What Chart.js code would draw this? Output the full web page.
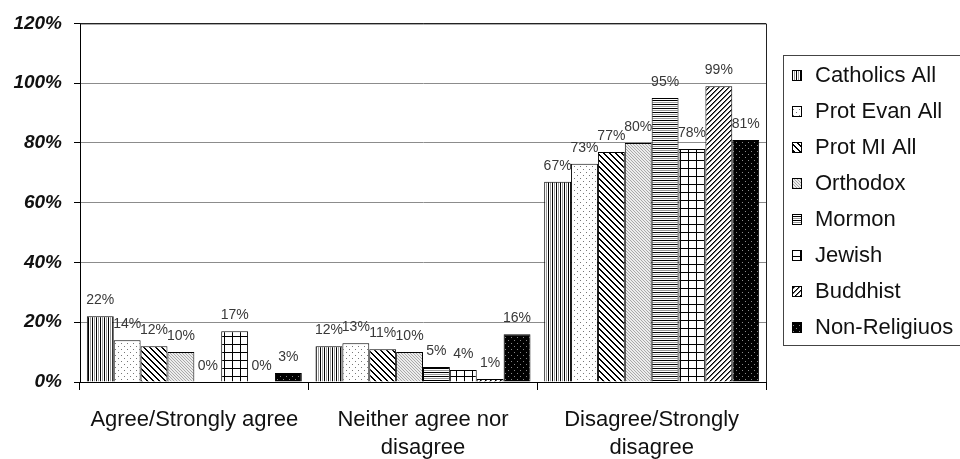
<!DOCTYPE html>
<html>
<head>
<meta charset="utf-8">
<title>Religious groups - responses</title>
<script src="https://cdn.jsdelivr.net/npm/chart.js@4.4.1/dist/chart.umd.min.js"></script>
<style>
    html, body { margin: 0; padding: 0; background: #fff; }
    #chart-box { width: 960px; height: 459px; position: relative; }
</style>
</head>
<body>
<div id="chart-box"><canvas id="myChart"></canvas></div>
<script>
// Response categories (x axis)
const categories = [
    ['Agree/Strongly agree'],
    ['Neither agree nor', 'disagree'],
    ['Disagree/Strongly', 'disagree']
];

// Percentages per group, one value per category
const catholicsAll = [22, 12, 67];
const protEvanAll = [14, 13, 73];
const protMlAll = [12, 11, 77];
const orthodox = [10, 10, 80];
const mormon = [0, 5, 95];
const jewish = [17, 4, 78];
const buddhist = [0, 1, 99];
const nonReligious = [3, 16, 81];

const groupNames = ['Catholics All', 'Prot Evan All', 'Prot MI All', 'Orthodox', 'Mormon', 'Jewish', 'Buddhist', 'Non-Religiuos'];

// Y axis ticks
const yTicks = [0, 20, 40, 60, 80, 100, 120];

const FONT = '"Liberation Sans", Arial, Helvetica, sans-serif';

// Build a small repeating tile; paint(x, y) returns a colour for each pixel
function makePattern(w, h, paint) {
    const c = document.createElement('canvas');
    c.width = w;
    c.height = h;
    const g = c.getContext('2d');
    for (let y = 0; y < h; y++) {
        for (let x = 0; x < w; x++) {
            g.fillStyle = paint(x, y);
            g.fillRect(x, y, 1, 1);
        }
    }
    return document.getElementById('myChart').getContext('2d').createPattern(c, 'repeat');
}

const patterns = [
    // vertical lines
    makePattern(4, 4, (x) => x === 0 ? '#000' : (x === 2 ? '#9a9a9a' : '#fff')),
    // sparse dots
    makePattern(6, 6, (x, y) => ((x === 1 && y === 1) || (x === 4 && y === 4)) ? '#777' : '#fff'),
    // wide downward diagonal
    makePattern(6, 6, (x, y) => {
        const d = ((x - y) % 6 + 6) % 6;
        return d < 2 ? '#000' : '#fff';
    }),
    // fine stipple
    makePattern(3, 3, (x, y) => ((x + y * 2) % 3 === 0) ? '#a8a8a8' : '#ececec'),
    // horizontal lines
    makePattern(4, 4, (x, y) => y === 0 ? '#000' : (y === 2 ? '#9a9a9a' : '#fff')),
    // grid
    makePattern(8, 8, (x, y) => (x === 0 || y === 0) ? '#000' : '#fff'),
    // upward diagonal
    makePattern(5, 5, (x, y) => {
        const d = (x + y) % 5;
        return d === 0 ? '#000' : (d === 1 ? '#666' : '#fff');
    }),
    // black with light dots
    makePattern(6, 6, (x, y) => ((x === 1 && y === 1) || (x === 4 && y === 4)) ? '#8a8a8a' : '#000')
];

const seriesData = [catholicsAll, protEvanAll, protMlAll, orthodox, mormon, jewish, buddhist, nonReligious];

const datasets = seriesData.map((values, i) => ({
    label: groupNames[i],
    data: values,
    backgroundColor: patterns[i],
    borderColor: '#000',
    borderWidth: 1,
    barPercentage: 1.0,
    categoryPercentage: 0.94
}));

// Value labels above each bar
const valueLabels = {
    id: 'valueLabels',
    afterDatasetsDraw(chart) {
        const ctx = chart.ctx;
        ctx.save();
        ctx.font = '14px ' + FONT;
        ctx.fillStyle = '#383838';
        ctx.textAlign = 'center';
        ctx.textBaseline = 'middle';
        chart.data.datasets.forEach((ds, i) => {
            chart.getDatasetMeta(i).data.forEach((bar, j) => {
                ctx.fillText(ds.data[j] + '%', bar.x, bar.y - 16);
            });
        });
        ctx.restore();
    }
};

// Plot frame (top + right) and the boxed legend on the right
const frameAndLegend = {
    id: 'frameAndLegend',
    afterDraw(chart) {
        const ctx = chart.ctx;
        const a = chart.chartArea;
        ctx.save();
        ctx.strokeStyle = '#222';
        ctx.lineWidth = 1;
        ctx.beginPath();
        ctx.moveTo(a.left, a.top + 0.5);
        ctx.lineTo(a.right + 0.5, a.top + 0.5);
        ctx.lineTo(a.right + 0.5, a.bottom);
        ctx.stroke();

        // legend box
        const lx = 783, ly = 55, lw = 190, lh = 290;
        ctx.strokeStyle = '#444';
        ctx.strokeRect(lx + 0.5, ly + 0.5, lw, lh);

        ctx.font = '22px ' + FONT;
        ctx.textAlign = 'left';
        ctx.textBaseline = 'middle';
        chart.data.datasets.forEach((ds, i) => {
            const cy = 75 + i * 36;
            ctx.fillStyle = ds.backgroundColor;
            ctx.fillRect(792, cy - 5, 10, 11);
            ctx.strokeStyle = '#000';
            ctx.strokeRect(792.5, cy - 4.5, 9, 10);
            ctx.fillStyle = '#111';
            ctx.fillText(ds.label, 815, cy + 1);
        });
        ctx.restore();
    }
};

const ctx = document.getElementById('myChart').getContext('2d');
new Chart(ctx, {
    type: 'bar',
    data: {
        labels: categories,
        datasets: datasets
    },
    options: {
        responsive: true,
        maintainAspectRatio: false,
        animation: false,
        layout: {
            padding: { top: 22, right: 194, left: 0, bottom: 0 }
        },
        plugins: {
            legend: { display: false },
            tooltip: { enabled: false }
        },
        scales: {
            x: {
                afterFit(scale) { scale.height = 77; },
                border: { color: '#000', width: 1 },
                grid: {
                    offset: true,
                    drawOnChartArea: false,
                    tickLength: 8,
                    tickColor: '#000'
                },
                ticks: {
                    autoSkip: false,
                    maxRotation: 0,
                    padding: 16,
                    color: '#111',
                    font: { family: FONT, size: 22, lineHeight: 1.28 }
                }
            },
            y: {
                min: yTicks[0],
                max: yTicks[yTicks.length - 1],
                afterFit(scale) { scale.width = 80; },
                afterBuildTicks(scale) {
                    scale.ticks = yTicks.map(v => ({ value: v }));
                },
                border: { color: '#000', width: 1 },
                grid: {
                    color: (c) => c.tick && c.tick.value === 120 ? '#222' : '#8c8c8c',
                    tickLength: 6,
                    tickColor: '#000'
                },
                ticks: {
                    padding: 12,
                    color: '#111',
                    font: { family: FONT, size: 19, weight: 'bold', style: 'italic' },
                    callback: (v) => v + '%'
                }
            }
        }
    },
    plugins: [valueLabels, frameAndLegend]
});
</script>
</body>
</html>
